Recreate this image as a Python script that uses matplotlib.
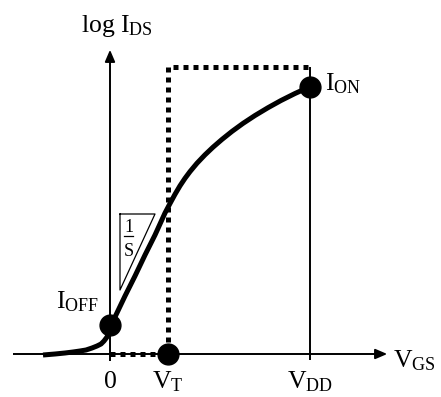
import matplotlib
matplotlib.use("Agg")
import matplotlib.pyplot as plt

plt.rcParams['font.family'] = ['Liberation Serif', 'DejaVu Serif']
plt.rcParams['mathtext.fontset'] = 'custom'
plt.rcParams['mathtext.rm'] = 'Liberation Serif'
plt.rcParams['mathtext.it'] = 'Liberation Serif:italic'

# ---- data (arbitrary units: V_GS horizontal, log I_DS vertical) ----
curve_v = [-67, -55, -45, -37, -30, -24, -18, -13, -9, -6, -3, -1, 1, 5, 15, 25, 35, 45,
           55, 60, 65, 70, 75, 80, 87, 95, 103, 112, 122, 133, 145, 158, 171, 185, 200]
curve_logi = [-1, 0, 1, 2, 3, 4, 6, 8, 10, 13, 17, 22, 29, 37, 58, 78, 99, 119,
              141, 150.5, 159.7, 168.2, 175.7, 182.4, 190.8, 199.2, 206.8, 214.6, 222.6,
              230.6, 238.5, 246.3, 253.5, 260.5, 267.3]

v_t = 58
v_dd = 200
logi_off = 29
logi_on = 267
logi_top = 287

tri_v = [10, 45, 10, 10]
tri_logi = [140, 140, 64, 140]

x_tick_labels = ['0', r'$\mathrm{V_T}$', r'$\mathrm{V_{DD}}$']
x_tick_pos = [0, v_t, v_dd]

fig = plt.figure(figsize=(4.41, 3.97), dpi=100)
ax = fig.add_axes([0, 0, 1, 1])
ax.set_xlim(-110, 331)
ax.set_ylim(-43, 354)
ax.axis('off')

# axes with arrows
ax.plot([-97, 272], [0, 0], color='black', lw=1.4, solid_capstyle='butt')
ax.annotate('', xy=(280, 0), xytext=(268, 0),
            arrowprops=dict(arrowstyle='-|>,head_length=0.7,head_width=0.3', color='black', lw=1.4))
ax.plot([0, 0], [-7, 298], color='black', lw=1.4, solid_capstyle='butt')
ax.annotate('', xy=(0, 307), xytext=(0, 295),
            arrowprops=dict(arrowstyle='-|>,head_length=0.7,head_width=0.3', color='black', lw=1.4))

# V_DD vertical line
ax.plot([v_dd, v_dd], [-6, logi_top], color='black', lw=1.4, solid_capstyle='butt')

# dotted box
ax.plot([0, v_t, v_t, v_dd], [0, 0, logi_top, logi_top], color='black', lw=3.6,
        linestyle=(0, (1, 1)), dash_capstyle='butt', solid_joinstyle='miter')

# curve
ax.plot(curve_v, curve_logi, color='black', lw=3.6, solid_capstyle='butt', solid_joinstyle='round')

# points
ax.plot([0, v_t, v_dd], [logi_off, 0, logi_on], 'o', color='black', ms=15)

# slope triangle
ax.plot(tri_v, tri_logi, color='black', lw=0.9)
ax.text(18.5, 127, '1', ha='center', va='center', fontsize=13)
ax.plot([14, 23], [118, 118], color='black', lw=0.9)
ax.text(18.5, 102, 'S', ha='center', va='center', fontsize=13)

# labels
ax.text(7, 322, r'$\mathrm{log\ I_{DS}}$', ha='center', va='baseline', fontsize=18.5)
ax.text(215, 264, r'$\mathrm{I_{ON}}$', ha='left', va='baseline', fontsize=18.5)
ax.text(-54, 46, r'$\mathrm{I_{OFF}}$', ha='left', va='baseline', fontsize=18.5)
ax.text(283, -13, r'$\mathrm{V_{GS}}$', ha='left', va='baseline', fontsize=18.5)
for pos, lab in zip(x_tick_pos, x_tick_labels):
    ax.text(pos, -34, lab, ha='center', va='baseline', fontsize=18.5)

fig.savefig('out.png', dpi=100)
